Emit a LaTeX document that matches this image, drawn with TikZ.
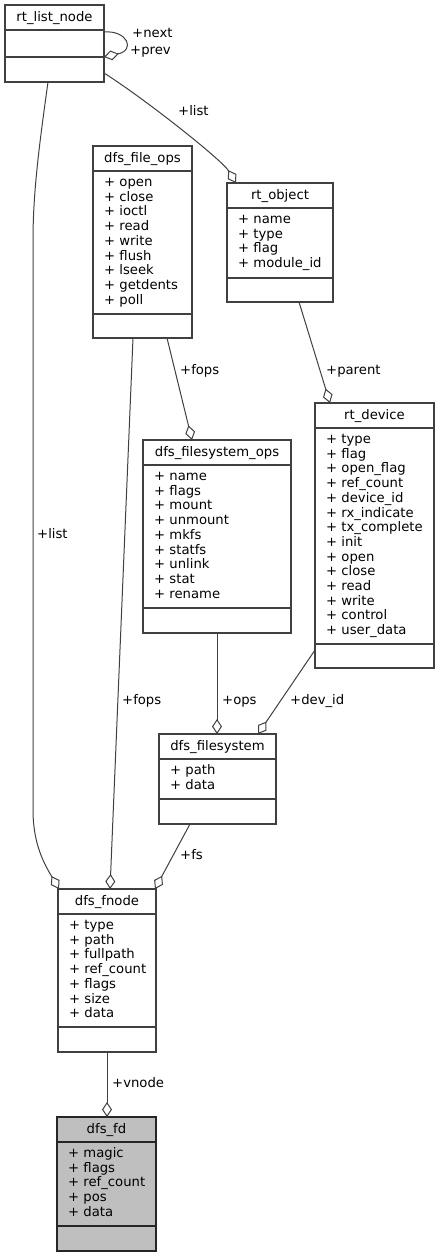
\documentclass[tikz,border=0pt]{standalone}
\usepackage{fontspec}
\setmainfont{DejaVu Sans}
\usetikzlibrary{arrows.meta}

\definecolor{edgegray}{HTML}{404040}
\definecolor{boxgray}{HTML}{404040}
\definecolor{mainfill}{HTML}{BFBFBF}

\tikzset{
  classbox/.style={draw=boxgray, line width=1.15pt, inner sep=0pt, outer sep=0pt, fill=white},
  sepline/.style={draw=boxgray, line width=1.15pt},
  classtitle/.style={anchor=base, inner sep=0pt},
  member/.style={anchor=base west, inner sep=0pt},
  role/.style={anchor=base west, inner sep=0pt},
  assoc/.style={draw=edgegray, line width=1pt,
    -{Diamond[open, length=15pt, width=10pt, line width=1pt]}},
}

% #1 name, #2 extra style, #3 left, #4 top, #5 right, #6 second separator, #7 bottom, #8 title
\newcommand\classbox[8]{%
  \node[classbox, #2, anchor=north west,
        minimum width={(#5-#3)*1pt}, minimum height={(#7-#4)*1pt}] (#1) at (#3,#4) {};
  \draw[sepline, #2] (#3,#4+25) -- (#5,#4+25);
  \draw[sepline, #2] (#3,#6) -- (#5,#6);
  \node[classtitle] (#1-title) at ({(#3+#5)/2},#4+16.5) {#8};
}
% #1 name, #2 left, #3 top, #4 member list
\newcommand\memberlist[4]{%
  \foreach \m [count=\i] in {#4} {
    \node[member] (#1-m\i) at (#2+11,{#3+25+15.5+(\i-1)*14.7}) {+ \m};
  }
}

\begin{document}
\begin{tikzpicture}[x=1pt, y=-1pt, font=\fontsize{13.2pt}{14.7pt}\selectfont]
\useasboundingbox (0,0) rectangle (439,1257);

% classes
\classbox{lst}{}{5}{5}{104}{57}{82}{rt\_list\_node}

\classbox{fops}{}{93}{146}{192}{314}{338}{dfs\_file\_ops}
\memberlist{fops}{93}{146}{open,close,ioctl,read,write,flush,lseek,getdents,poll}

\classbox{obj}{}{227}{183}{333}{278}{302}{rt\_object}
\memberlist{obj}{227}{183}{name,type,flag,module\_id}

\classbox{fsops}{}{143}{440}{291}{608}{633}{dfs\_filesystem\_ops}
\memberlist{fsops}{143}{440}{name,flags,mount,unmount,mkfs,statfs,unlink,stat,rename}

\classbox{dev}{}{315}{403}{434}{644}{668}{rt\_device}
\memberlist{dev}{315}{403}{type,flag,open\_flag,ref\_count,device\_id,rx\_indicate,tx\_complete,init,open,close,read,write,control,user\_data}

\classbox{fsy}{}{159}{734}{276}{799}{824}{dfs\_filesystem}
\memberlist{fsy}{159}{734}{path,data}

\classbox{fn}{}{58}{889}{156}{1027}{1052}{dfs\_fnode}
\memberlist{fn}{58}{889}{type,path,fullpath,ref\_count,flags,size,data}

\classbox{fd}{fill=mainfill, draw=black!85}{57}{1117}{156}{1226}{1251}{dfs\_fd}
\memberlist{fd}{57}{1117}{magic,flags,ref\_count,pos,data}

% associations
\draw[assoc] ([yshift=-27pt]lst.north east) .. controls (127,30) and (136,50) .. ([yshift=-52pt]lst.north east);
\draw[assoc] ([yshift=9pt]lst.south east) .. controls (145,99) and (222,160) .. ([xshift=9pt]obj.north west);
\draw[assoc] ([xshift=43pt]lst.south west) .. controls (40,140) and (33,190) .. (33,240)
  -- (33,810) .. controls (33,845) and (45,865) .. ([xshift=1pt]fn.north west);
\draw[assoc] ([xshift=40pt]fops.south west) -- ([xshift=52pt]fn.north west);
\draw[assoc] ([xshift=74pt]fops.south west) -- ([xshift=49pt]fsops.north west);
\draw[assoc] ([xshift=72pt]obj.south west) -- ([xshift=15pt]dev.north west);
\draw[assoc] (fsops.south) -- (fsops.south |- fsy.north);
\draw[assoc] ([yshift=-247pt]dev.north west) -- ([xshift=99pt]fsy.north west);
\draw[assoc] ([xshift=31pt]fsy.south west) -- ([xshift=-1pt]fn.north east);
\draw[assoc] (fn.south) -- (fn.south |- fd.north);

% role names
\node[role] (r-next) at (132,38) {+next};
\node[role] (r-prev) at (130,55) {+prev};
\node[role] (r-list1) at (178,116) {+list};
\node[role] (r-list2) at (37,538.5) {+list};
\node[role] (r-fops1) at (180,374.5) {+fops};
\node[role] (r-parent) at (326,374.5) {+parent};
\node[role] (r-fops2) at (122,704.5) {+fops};
\node[role] (r-ops) at (222,704.5) {+ops};
\node[role] (r-devid) at (290,704.5) {+dev\_id};
\node[role] (r-fs) at (180,859.5) {+fs};
\node[role] (r-vnode) at (112,1087) {+vnode};
\end{tikzpicture}
\end{document}
